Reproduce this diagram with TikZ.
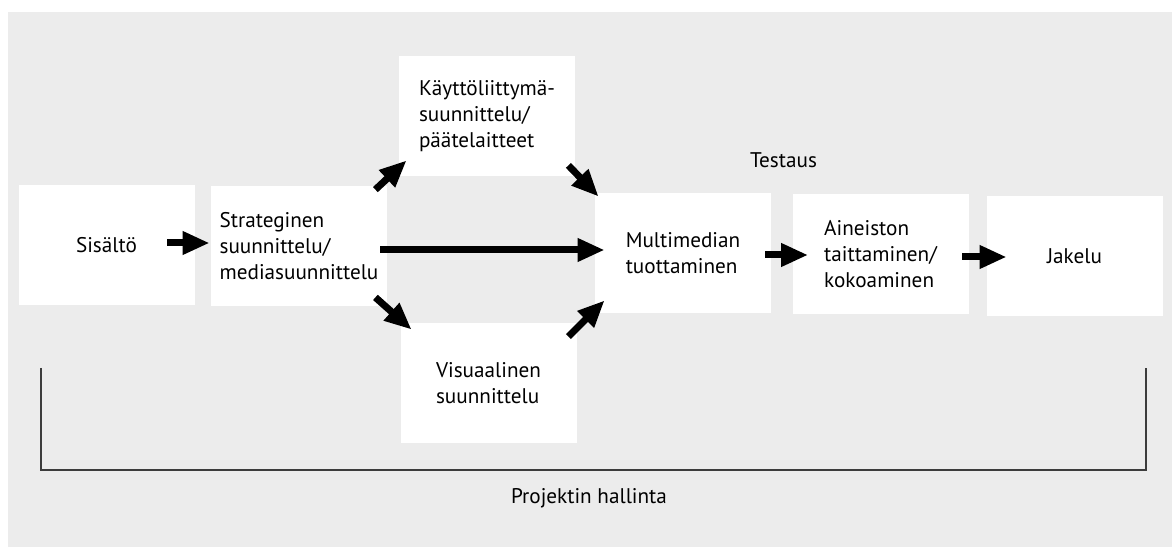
\documentclass[tikz,border=0pt]{standalone}
\usepackage{fontspec}
\setmainfont{PT Sans}
\usetikzlibrary{arrows.meta}
\definecolor{bggray}{RGB}{236,236,236}
\definecolor{bracketgray}{RGB}{60,60,60}
\tikzset{
  stage/.style={fill=white, minimum width=88pt, minimum height=60pt,
    inner sep=0pt, align=left, font=\fontsize{10.6}{13}\selectfont},
  flow/.style={line width=3.5pt, -{Triangle[length=13.5pt,width=11pt]}},
  caption/.style={anchor=base, font=\fontsize{10.6}{13}\selectfont}
}
\begin{document}
\begin{tikzpicture}[x=0.5pt, y=0.5pt]
  \fill[white] (0,0) rectangle (1174,547);
  \fill[bggray] (8,0) rectangle (1172,535);
  % stages
  \node[stage] (sisalto) at (106.5,302) {Sisältö};
  \node[stage] (strateg) at (299,301) {Strateginen\\suunnittelu/\\mediasuunnittelu};
  \node[stage] (kaytto) at (487,431) {Käyttöliittymä-\\suunnittelu/\\päätelaitteet};
  \node[stage] (visu) at (488.5,164) {Visuaalinen\\suunnittelu};
  \node[stage] (multi) at (683,294) {Multimedian\\tuottaminen};
  \node[stage] (aineisto) at (880.5,292.5) {Aineiston\\taittaminen/\\kokoaminen};
  \node[stage] (jakelu) at (1074.5,291) {Jakelu};
  % arrows
  \draw[flow] ([shift={(-27.5,2)}]sisalto.east) -- ([shift={(-1,3)}]strateg.west);
  \draw[flow] ([shift={(-7,-4)}]strateg.east) -- ([shift={(10,3)}]multi.west);
  \draw[flow] ([shift={(-12,-4)}]strateg.north east) -- ([shift={(8,16)}]kaytto.south west);
  \draw[flow] ([shift={(-12,9)}]strateg.south east) -- ([shift={(11.5,-7)}]visu.north west);
  \draw[flow] ([shift={(-7,11)}]kaytto.south east) -- ([shift={(4,-4)}]multi.north west);
  \draw[flow] ([shift={(-8.5,-14)}]visu.north east) -- ([shift={(10,13)}]multi.south west);
  \draw[flow] ([shift={(-6,-2)}]multi.east) -- ([shift={(16,-0.5)}]aineisto.west);
  \draw[flow] ([shift={(-6.5,-2.5)}]aineisto.east) -- ([shift={(20.5,-1)}]jakelu.west);
  % labels
  \node[caption] (testaus) at (783.5,379) {Testaus};
  \draw[bracketgray, line width=1.1pt] (41,179) -- (41,77) -- (1146,77) -- (1146,179);
  \node[caption] (hallinta) at (589,44) {Projektin hallinta};
\end{tikzpicture}
\end{document}
